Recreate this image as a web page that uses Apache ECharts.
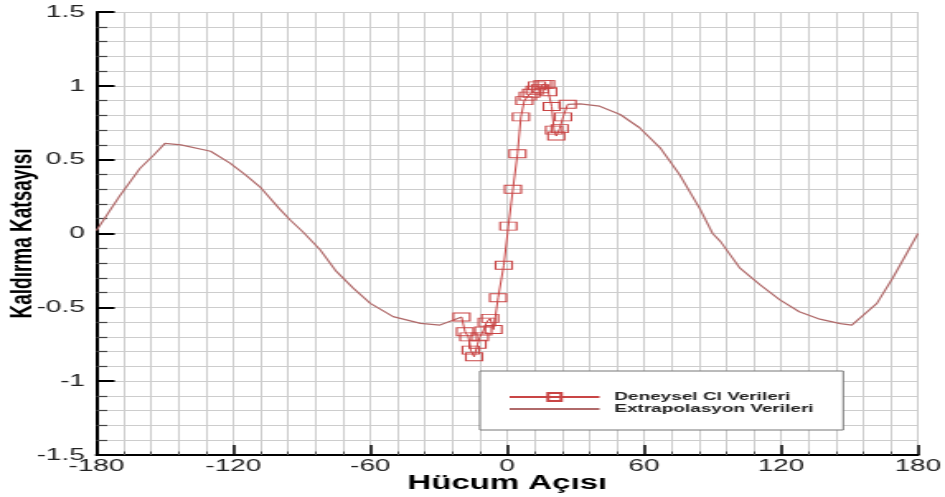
<!DOCTYPE html>
<html>
<head>
<meta charset="utf-8">
<script src="https://cdn.jsdelivr.net/npm/echarts/dist/echarts.min.js"></script>
<style>
  html, body { margin: 0; padding: 0; background: #fff; overflow: hidden; }
  #wrap { width: 945px; height: 497px; overflow: hidden; }
  /* the plot is laid out narrow and widened horizontally, as in the exported figure */
  #chart { width: 573px; height: 497px; transform: scaleX(1.6492); transform-origin: 0 0; }
</style>
</head>
<body>
<div id="wrap"><div id="chart"></div></div>
<script>
// Hücum açısı (derece) ekseni ve kaldırma katsayısı ekseni tik değerleri
const xTicks = [-180, -120, -60, 0, 60, 120, 180];
const yTicks = [-1.5, -1, -0.5, 0, 0.5, 1, 1.5];

// Deneysel Cl verileri (açı, Cl)
const expAngle = [-20, -18.5, -17, -16, -14.5, -13, -12, -10.5, -9, -7.5, -6, -4, -1.5, 0.5, 2.5, 4.5, 6, 7.5, 9, 10.5, 12, 13, 14.5, 15.5, 17, 18, 19.5, 20.5, 21.5, 23, 24.5, 26.5];
const expCl    = [-0.565, -0.665, -0.70, -0.79, -0.835, -0.75, -0.70, -0.66, -0.60, -0.575, -0.65, -0.435, -0.215, 0.05, 0.30, 0.54, 0.79, 0.90, 0.93, 0.95, 0.97, 1.0, 0.98, 1.01, 1.01, 0.96, 0.86, 0.70, 0.66, 0.71, 0.79, 0.875];

// Extrapolasyon verileri: negatif açı kolu
const extLeftAngle = [-180, -170, -161, -155, -150, -143, -130, -121.5, -115, -108, -100, -95, -89.5, -82, -75, -67.5, -60, -50, -38, -29.5, -23.5, -20];
const extLeftCl    = [0.02, 0.25, 0.44, 0.53, 0.61, 0.60, 0.557, 0.477, 0.40, 0.31, 0.17, 0.09, 0.01, -0.11, -0.255, -0.37, -0.473, -0.563, -0.609, -0.62, -0.586, -0.565];

// Extrapolasyon verileri: pozitif açı kolu
const extRightAngle = [26.5, 32, 40.5, 49.5, 58, 67, 75.5, 84.5, 90, 93.5, 102, 111, 119.5, 128, 137, 146, 151, 162, 169, 180];
const extRightCl    = [0.875, 0.878, 0.862, 0.806, 0.716, 0.58, 0.40, 0.165, 0.0, -0.055, -0.235, -0.35, -0.45, -0.53, -0.58, -0.61, -0.62, -0.473, -0.30, 0.0];

const zip = (a, b) => a.map((v, i) => [v, b[i]]);
// the two extrapolation arms are one series with a break between them
const extData = zip(extLeftAngle, extLeftCl).concat([[0, null]], zip(extRightAngle, extRightCl));
const expData = zip(expAngle, expCl);

const gridColor = '#cdcdcd';
const font = '"Liberation Sans", Arial, sans-serif';

const chart = echarts.init(document.getElementById('chart'));
chart.setOption({
  backgroundColor: '#fff',
  animation: false,
  grid: { left: 58.5, right: 16.4, top: 12, bottom: 42, containLabel: false, outerBoundsMode: 'none' },
  legend: {
    orient: 'vertical',
    left: 291, top: 371,
    width: 220,
    padding: [20, 18, 15, 17],
    itemGap: 0,
    itemWidth: 54.5,
    itemHeight: 10,
    backgroundColor: '#fff',
    borderColor: '#777',
    borderWidth: 1,
    textStyle: { fontFamily: font, fontSize: 11.5, fontWeight: 'bold', color: '#222', lineHeight: 11, padding: [0, 0, 0, 4] },
    data: [
      { name: 'Deneysel Cl Verileri' },
      { name: 'Extrapolasyon Verileri', itemStyle: { opacity: 0 } }
    ]
  },
  xAxis: {
    type: 'value',
    min: xTicks[0], max: xTicks[xTicks.length - 1], interval: xTicks[1] - xTicks[0],
    name: 'Hücum Açısı',
    nameLocation: 'middle',
    nameGap: 18,
    nameMoveOverlap: false,
    nameTextStyle: { fontFamily: font, fontSize: 20, fontWeight: 'bold', color: '#000', verticalAlign: 'top' },
    axisLine: { show: true, onZero: false, lineStyle: { color: '#000', width: 2 } },
    axisTick: { show: true, inside: true, length: 10, lineStyle: { color: '#000', width: 1.5 } },
    minorTick: { show: true, splitNumber: 5, length: 3.5, lineStyle: { color: '#555', width: 1 } },
    axisLabel: { margin: 3, fontFamily: font, fontSize: 17, color: '#222' },
    splitLine: { show: true, lineStyle: { color: gridColor, width: 1 } },
    minorSplitLine: { show: true, lineStyle: { color: gridColor, width: 1 } }
  },
  yAxis: {
    type: 'value',
    min: yTicks[0], max: yTicks[yTicks.length - 1], interval: yTicks[1] - yTicks[0],
    name: 'Kaldırma Katsayısı',
    nameLocation: 'middle',
    nameGap: 35,
    nameMoveOverlap: false,
    nameTextStyle: { fontFamily: font, fontSize: 19, fontWeight: 'bold', color: '#000' },
    axisLine: { show: true, onZero: false, lineStyle: { color: '#000', width: 2 } },
    axisTick: { show: true, inside: true, length: 11, lineStyle: { color: '#000', width: 2 } },
    minorTick: { show: true, splitNumber: 5, length: 6.5, lineStyle: { color: '#444', width: 1.2 } },
    axisLabel: { margin: 7, fontFamily: font, fontSize: 17, color: '#222' },
    splitLine: { show: true, lineStyle: { color: gridColor, width: 1 } },
    minorSplitLine: { show: true, lineStyle: { color: gridColor, width: 1 } }
  },
  series: [
    {
      name: 'Deneysel Cl Verileri',
      type: 'line',
      data: expData,
      z: 3,
      symbol: 'rect',
      symbolSize: [10, 8],
      showAllSymbol: true,
      lineStyle: { color: '#c94545', width: 1 },
      itemStyle: { color: 'rgba(255,255,255,0)', borderColor: '#c94545', borderWidth: 1 }
    },
    {
      name: 'Extrapolasyon Verileri',
      type: 'line',
      data: extData,
      z: 2,
      symbol: 'none',
      connectNulls: false,
      lineStyle: { color: '#b06a6a', width: 1.2 },
      itemStyle: { color: '#b06a6a' }
    }
  ]
});
</script>
</body>
</html>
